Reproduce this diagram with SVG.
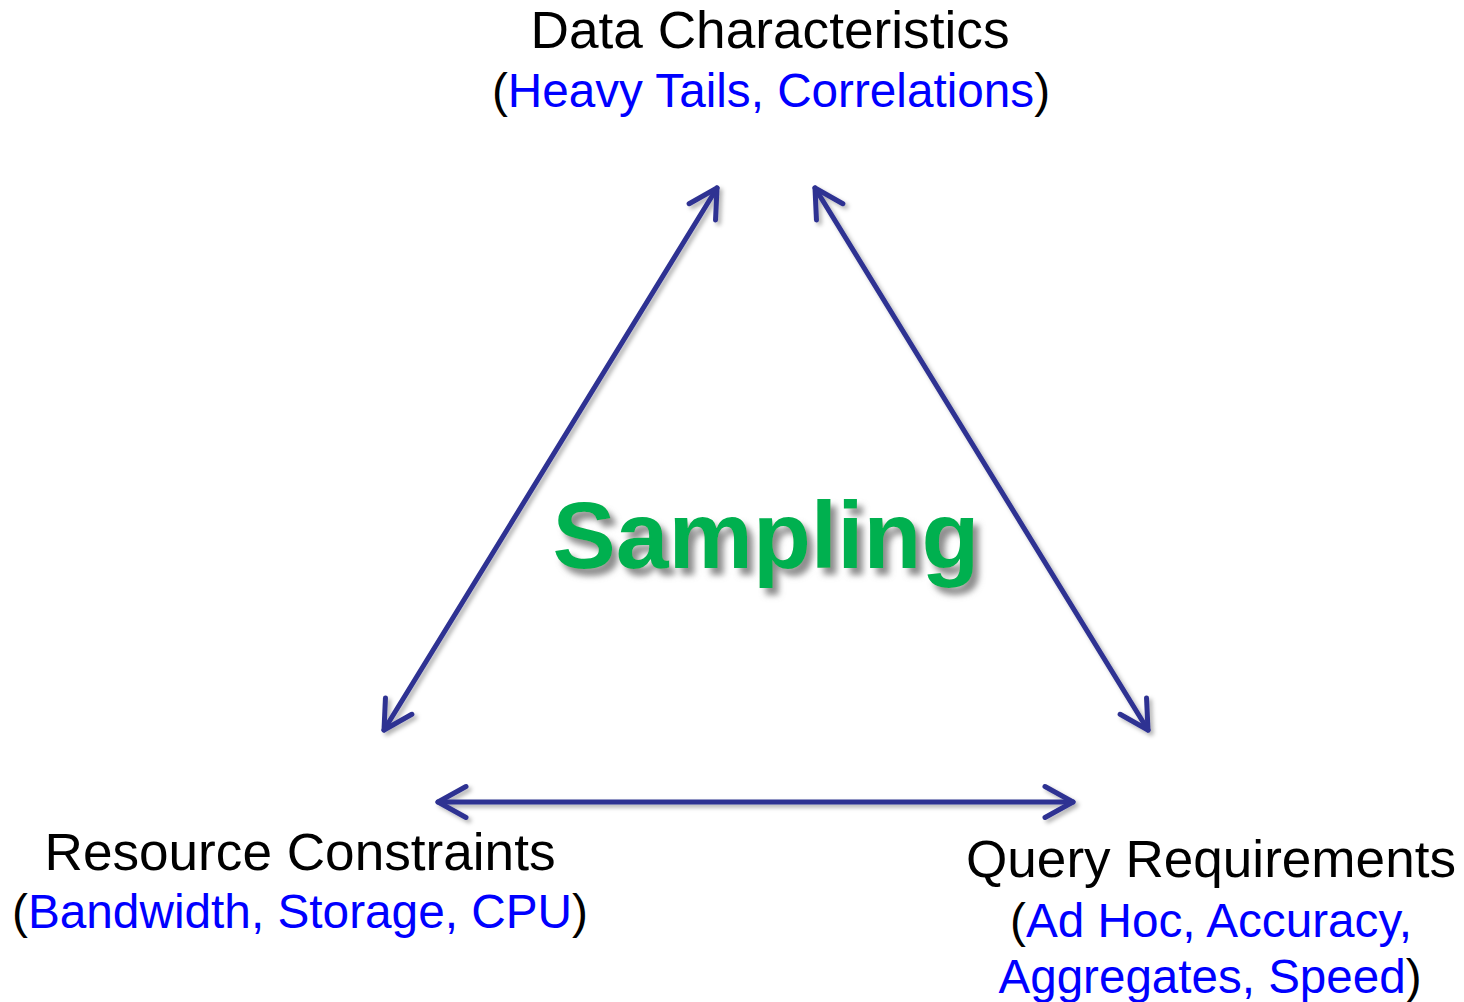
<svg xmlns="http://www.w3.org/2000/svg" width="1464" height="1002" viewBox="0 0 1464 1002">
  <style>
    .label { font-family: "Liberation Sans", Arial, sans-serif; fill: #000; text-anchor: middle; }
    .title { font-size: 51px; }
    .sub { font-size: 48px; }
    .hl { fill: #0000FF; }
    .conn { stroke: #2E3192; stroke-width: 5; fill: none; stroke-linecap: round; }
    .center { font-family: "Liberation Sans", Arial, sans-serif; font-weight: bold; font-size: 95px; fill: #00B050; text-anchor: middle; }
  </style>
  <defs>
    <marker id="head" markerUnits="userSpaceOnUse" viewBox="-40 -24 48 48" refX="0" refY="0" markerWidth="48" markerHeight="48" orient="auto-start-reverse">
      <path d="M-28,-15.5 L0,0 L-28,15.5" fill="none" stroke="#2E3192" stroke-width="5" stroke-linecap="round" stroke-linejoin="round"/>
    </marker>
    <filter id="arrowShadow" x="-10%" y="-10%" width="120%" height="120%">
      <feDropShadow dx="3" dy="3" stdDeviation="2" flood-color="#000" flood-opacity="0.3"/>
    </filter>
    <filter id="textShadow" x="-10%" y="-20%" width="120%" height="140%">
      <feDropShadow dx="6" dy="7" stdDeviation="3" flood-color="#808080" flood-opacity="0.9"/>
    </filter>
  </defs>

  <rect width="1464" height="1002" fill="#fff"/>

  <!-- connectors: double-headed arrows forming the triangle -->
  <g id="connectors" filter="url(#arrowShadow)">
    <line class="conn" x1="384" y1="730" x2="717" y2="188" marker-start="url(#head)" marker-end="url(#head)"/>
    <line class="conn" x1="815" y1="188" x2="1148" y2="730" marker-start="url(#head)" marker-end="url(#head)"/>
    <line class="conn" x1="438" y1="802" x2="1073" y2="802" marker-start="url(#head)" marker-end="url(#head)"/>
  </g>

  <g id="data-characteristics">
    <text class="label title" x="770" y="48" textLength="479" lengthAdjust="spacingAndGlyphs">Data Characteristics</text>
    <text class="label sub" x="771" y="107" textLength="558" lengthAdjust="spacingAndGlyphs">(<tspan class="hl">Heavy Tails, Correlations</tspan>)</text>
  </g>

  <g id="resource-constraints">
    <text class="label title" x="300" y="870" textLength="511" lengthAdjust="spacingAndGlyphs">Resource Constraints</text>
    <text class="label sub" x="300" y="928" textLength="576" lengthAdjust="spacingAndGlyphs">(<tspan class="hl">Bandwidth, Storage, CPU</tspan>)</text>
  </g>

  <g id="query-requirements">
    <text class="label title" x="1211" y="877" textLength="490" lengthAdjust="spacingAndGlyphs">Query Requirements</text>
    <text class="label sub" x="1211" y="937" textLength="402" lengthAdjust="spacingAndGlyphs">(<tspan class="hl">Ad Hoc, Accuracy,</tspan></text>
    <text class="label sub" x="1210" y="993" textLength="423" lengthAdjust="spacingAndGlyphs"><tspan class="hl">Aggregates, Speed</tspan>)</text>
  </g>

  <g id="sampling">
    <text class="center" x="766" y="568" textLength="427" lengthAdjust="spacingAndGlyphs" filter="url(#textShadow)">Sampling</text>
  </g>
</svg>
